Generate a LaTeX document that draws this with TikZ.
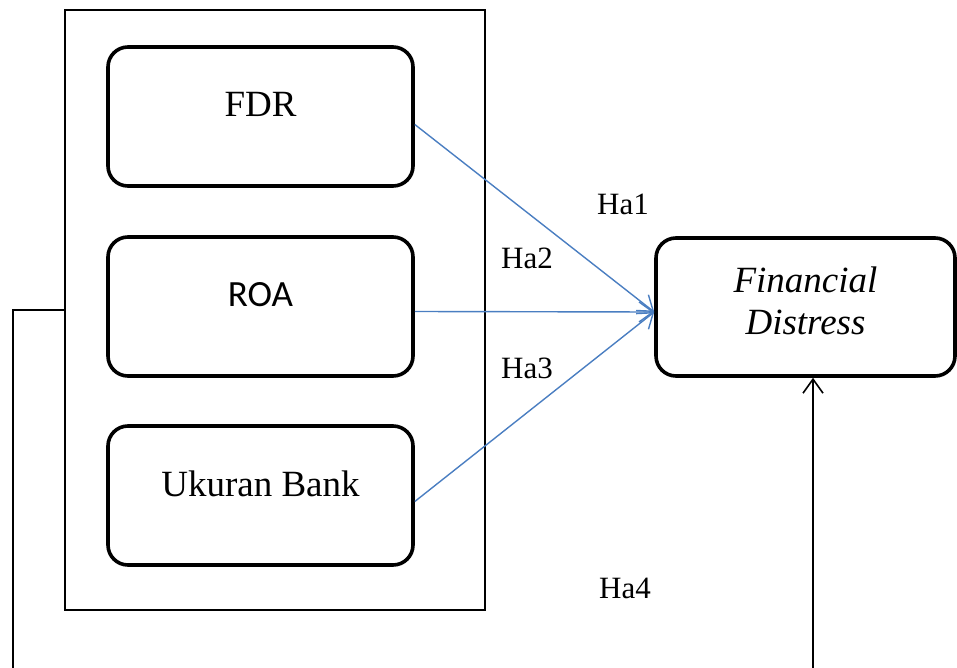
\documentclass[tikz,border=0pt]{standalone}
\usepackage{fontspec}
\setmainfont{Liberation Serif}
\newfontfamily\roafont{Carlito}
\usetikzlibrary{arrows.meta}
\definecolor{linkblue}{RGB}{74,126,193}

\begin{document}
\begin{tikzpicture}[x=0.5pt,y=-0.5pt,
  var/.style={draw,line width=1.8pt,rounded corners=10pt,minimum width=152.5pt,minimum height=69.5pt,align=center,text depth=12pt,font=\fontsize{18.5}{21}\selectfont},
  hyp/.style={font=\fontsize{15.5}{18}\selectfont},
  link/.style={draw=linkblue,line width=0.7pt,-{Straight Barb[length=7pt,width=10pt]}}]
\useasboundingbox (0,0) rectangle (957,668);
\node[draw,line width=0.8pt,minimum width=210pt,minimum height=300pt] (grp) at (275,310) {};
\node[var] (fdr) at (260.5,116.5) {FDR};
\node[var,font=\roafont\fontsize{18.5}{21}\selectfont] (roa) at (260.5,306.5) {ROA};
\node[var] (ukuran) at (260.5,495.5) {Ukuran Bank};
\node[var,minimum width=149.5pt,minimum height=69pt,text depth=6pt] (fd) at (805.5,307) {\textit{Financial}\\\textit{Distress}};
\draw[link] ([yshift=-4pt]fdr.east) -- ([yshift=-2.5pt]fd.west);
\draw[link] ([yshift=-2.5pt]roa.east) -- ([yshift=-2.5pt]fd.west);
\draw[link] ([yshift=-3pt]ukuran.east) -- ([yshift=-2.5pt]fd.west);
\node[hyp] (ha1) at (623,204) {Ha1};
\node[hyp] (ha2) at (527,258) {Ha2};
\node[hyp] (ha3) at (527,368) {Ha3};
\node[hyp] (ha4) at (625,588) {Ha4};
% feedback line running off the bottom
\coordinate (lbot) at (13,668);
\coordinate (rbot) at (813,668);
\draw[line width=0.8pt] (grp.west) -| (lbot);
\draw[line width=0.8pt,-{Straight Barb[length=7pt,width=10pt]}] (rbot) -- (rbot |- fd.south);
\end{tikzpicture}
\end{document}
